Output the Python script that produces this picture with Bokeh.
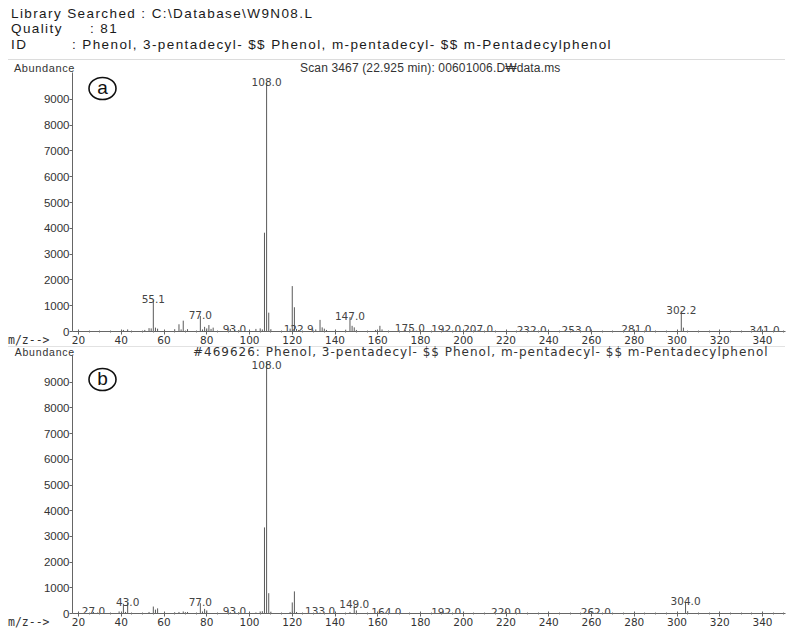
from bokeh.plotting import figure
from bokeh.models import Div, Label, FixedTicker, Range1d, ColumnDataSource, GridBox
from bokeh.embed import file_html
from bokeh.resources import INLINE
from bokeh.core.properties import value

# ---------------- data ----------------
library_searched = "C:\\Database\\W9N08.L"
quality = "81"
compound_id = "Phenol, 3-pentadecyl- $$ Phenol, m-pentadecyl- $$ m-Pentadecylphenol"
title_a = "Scan 3467 (22.925 min): 00601006.D\u20a9data.ms"
title_b = "#469626: Phenol, 3-pentadecyl- $$ Phenol, m-pentadecyl- $$ m-Pentadecylphenol"
y_name = "Abundance"
x_name = "m/z-->"

# (a) sample spectrum
mz_a = [41, 43, 51, 53, 54, 55, 56, 57, 65, 67, 68, 69, 71, 77, 78, 79, 80, 81, 82, 83,
        91, 93, 95, 103, 105, 106, 107, 108, 109, 110, 119, 120, 121, 122, 123,
        131, 133, 134, 135, 136, 145, 147, 148, 149, 150, 159, 161, 162, 173, 175,
        192, 205, 207, 232, 253, 281, 302, 303, 341]
ab_a = [60, 80, 60, 130, 120, 1210, 150, 110, 90, 280, 80, 420, 90, 600, 80, 180, 120, 250, 100, 150,
        100, 60, 60, 100, 120, 80, 3830, 9650, 730, 90, 110, 1760, 940, 100, 60,
        80, 450, 160, 110, 60, 70, 560, 220, 160, 60, 60, 220, 80, 50, 90,
        50, 40, 60, 30, 30, 40, 800, 150, 30]
label_mz_a = [55, 77, 93, 108, 123, 147, 175, 192, 207, 232, 253, 281, 302, 341]
label_txt_a = ["55.1", "77.0", "93.0", "108.0", "122.9", "147.0", "175.0", "192.0",
               "207.0", "232.0", "253.0", "281.0", "302.2", "341.0"]

# (b) library spectrum
mz_b = [26, 27, 29, 39, 41, 42, 43, 53, 55, 56, 57, 65, 67, 69, 70, 71, 77, 78, 79, 80,
        91, 93, 95, 103, 105, 106, 107, 108, 109, 110, 119, 120, 121, 122,
        133, 147, 149, 150, 164, 192, 220, 262, 304, 305]
ab_b = [30, 60, 40, 80, 380, 60, 420, 60, 270, 150, 200, 40, 60, 80, 50, 60, 400, 80, 180, 120,
        50, 40, 50, 40, 80, 90, 3350, 9800, 790, 70, 60, 430, 860, 60,
        40, 60, 320, 120, 30, 30, 30, 30, 450, 90]
label_mz_b = [27, 43, 77, 93, 108, 133, 149, 164, 192, 220, 262, 304]
label_txt_b = ["27.0", "43.0", "77.0", "93.0", "108.0", "133.0", "149.0", "164.0",
               "192.0", "220.0", "262.0", "304.0"]

y_ticks = [0, 1000, 2000, 3000, 4000, 5000, 6000, 7000, 8000, 9000]
x_ticks = list(range(20, 341, 20))

# ---------------- layout constants ----------------
W = 788
HEAD_H = 60
FIG_H = 287
BORDER_L, BORDER_R = 72, 3
X_LEFT = 17.19
PX_PER_MZ = 2.1375
X_RIGHT = X_LEFT + (W - BORDER_L - BORDER_R) / PX_PER_MZ
TEXT = "#333333"
LINE = "#5a5a5a"


def panel(mz, ab, lab_mz, lab_txt, letter, fig_top, border_top, border_bottom, ymax, letter_page_y):
    p = figure(width=W, height=FIG_H, output_backend="svg", toolbar_location=None,
               x_range=Range1d(X_LEFT, X_RIGHT), y_range=Range1d(0, ymax),
               min_border_left=BORDER_L, min_border_right=BORDER_R,
               min_border_top=border_top, min_border_bottom=border_bottom)
    p.outline_line_color = None
    p.grid.visible = False
    p.background_fill_color = "white"
    p.border_fill_color = "white"

    frame_h = FIG_H - border_top - border_bottom
    px_per_ab = frame_h / ymax
    frame_bottom_page = fig_top + FIG_H - border_bottom

    p.yaxis.ticker = FixedTicker(ticks=y_ticks)
    p.yaxis.major_tick_out = 3
    p.yaxis.major_tick_in = 0
    p.yaxis.minor_tick_line_color = None
    p.yaxis.major_label_text_font = "Liberation Sans"
    p.yaxis.major_label_text_font_size = "11.5px"
    p.yaxis.major_label_text_color = TEXT
    p.yaxis.major_label_standoff = 0
    p.yaxis.axis_line_color = "#666666"
    p.yaxis.major_tick_line_color = "#666666"

    minors = [m for m in range(15, 355, 5) if m not in x_ticks]
    p.xaxis.ticker = FixedTicker(ticks=x_ticks, minor_ticks=minors)
    p.xaxis.major_tick_out = 3
    p.xaxis.major_tick_in = 2
    p.xaxis.minor_tick_out = 1
    p.xaxis.minor_tick_in = 1
    p.xaxis.major_label_text_font = "DejaVu Sans"
    p.xaxis.major_label_text_font_size = "10.5px"
    p.xaxis.major_label_text_color = TEXT
    p.xaxis.major_label_standoff = 1
    p.xaxis.axis_line_color = "#666666"
    p.xaxis.major_tick_line_color = "#666666"
    p.xaxis.minor_tick_line_color = "#777777"

    src = ColumnDataSource(dict(mz=mz, ab=ab, zero=[0] * len(mz)))
    p.segment(x0="mz", y0="zero", x1="mz", y1="ab", source=src,
              line_color=LINE, line_width=1)

    heights = dict(zip(mz, ab))
    cap = ymax - 10 / px_per_ab
    lab_y = [min(heights.get(m, 0), cap) for m in lab_mz]
    p.text(x=lab_mz, y=lab_y, text=lab_txt, text_align="center",
           text_baseline="alphabetic", y_offset=-1,
           text_font=value("DejaVu Sans"), text_font_size="10.5px", text_color="#444444")

    cx = X_LEFT + (102 - BORDER_L) / PX_PER_MZ
    cy = (frame_bottom_page - letter_page_y) / px_per_ab
    p.ellipse(x=[cx], y=[cy], width=27, height=22, width_units="screen",
              height_units="screen", fill_color="white", line_color="#111111", line_width=1.6)
    p.add_layout(Label(x=cx, y=cy, text=letter, text_align="center",
                       text_baseline="middle", y_offset=1, text_font="Liberation Sans",
                       text_font_size="19px", text_color="#111111"))
    return p


pa = panel(mz_a, ab_a, label_mz_a, label_txt_a, "a", HEAD_H, 12, 16, 10040, 88)
pb = panel(mz_b, ab_b, label_mz_b, label_txt_b, "b", HEAD_H + FIG_H, 8, 21, 10040, 379)

HEAD_STYLE = ("position:absolute; font-family:'Liberation Sans', Arial, sans-serif; font-size:13.5px;"
              " line-height:15px; letter-spacing:1.4px; color:#1a1a1a; white-space:nowrap;")
header_html = (
    '<div style="position:relative; width:788px; height:60px;">'
    '<div style="%s left:11px; top:5.5px">Library Searched : %s</div>' % (HEAD_STYLE, library_searched)
    + '<div style="%s left:11px; top:21px">Quality</div>' % HEAD_STYLE
    + '<div style="%s left:90px; top:21px">: %s</div>' % (HEAD_STYLE, quality)
    + '<div style="%s left:11px; top:36.5px">ID</div>' % HEAD_STYLE
    + '<div style="%s left:72px; top:36.5px">: %s</div>' % (HEAD_STYLE, compound_id)
    + '<div style="position:absolute; left:8px; top:59px; width:777px; border-top:1px solid #dcdcdc"></div>'
    '</div>'
)
header = Div(text=header_html, width=W, height=HEAD_H, margin=0, disable_math=True)


def span(txt, left, top, font, size, align="left", width=None, spacing=0.0):
    w = "width:%dpx;" % width if width else ""
    return ('<div style="position:absolute; left:%dpx; top:%spx; %s text-align:%s; '
            'font-family:\'%s\'; font-size:%s; line-height:11px; letter-spacing:%spx; color:%s; '
            'white-space:nowrap;">%s</div>'
            % (left, top, w, align, font, size, spacing, TEXT, txt))


overlay_html = (
    '<div style="position:relative; width:788px; height:574px;">'
    + span(y_name, 0, 2.5, "Liberation Sans", "11px", "right", 75, spacing=0.6)
    + span(title_a, 300, 2.5, "Liberation Sans", "12px", spacing=0.15)
    + span(x_name, 8, 274.5, "DejaVu Sans Mono", "11.5px")
    + '<div style="position:absolute; left:8px; top:286px; width:777px; border-top:1px solid #e2e2e2"></div>'
    + span(y_name, 0, 287, "Liberation Sans", "10.5px", "right", 75, spacing=0.8)
    + span(title_b, 193, 287, "DejaVu Sans", "12px", spacing=1.0)
    + span(x_name, 8, 556.5, "DejaVu Sans Mono", "11.5px")
    + '</div>'
)
overlay = Div(text=overlay_html, width=W, height=2 * FIG_H, margin=0, disable_math=True)

layout = GridBox(children=[(header, 0, 0), (pa, 1, 0), (pb, 2, 0), (overlay, 1, 0, 2, 1)],
                 spacing=0)
open("out.html", "w").write(file_html(layout, INLINE))
